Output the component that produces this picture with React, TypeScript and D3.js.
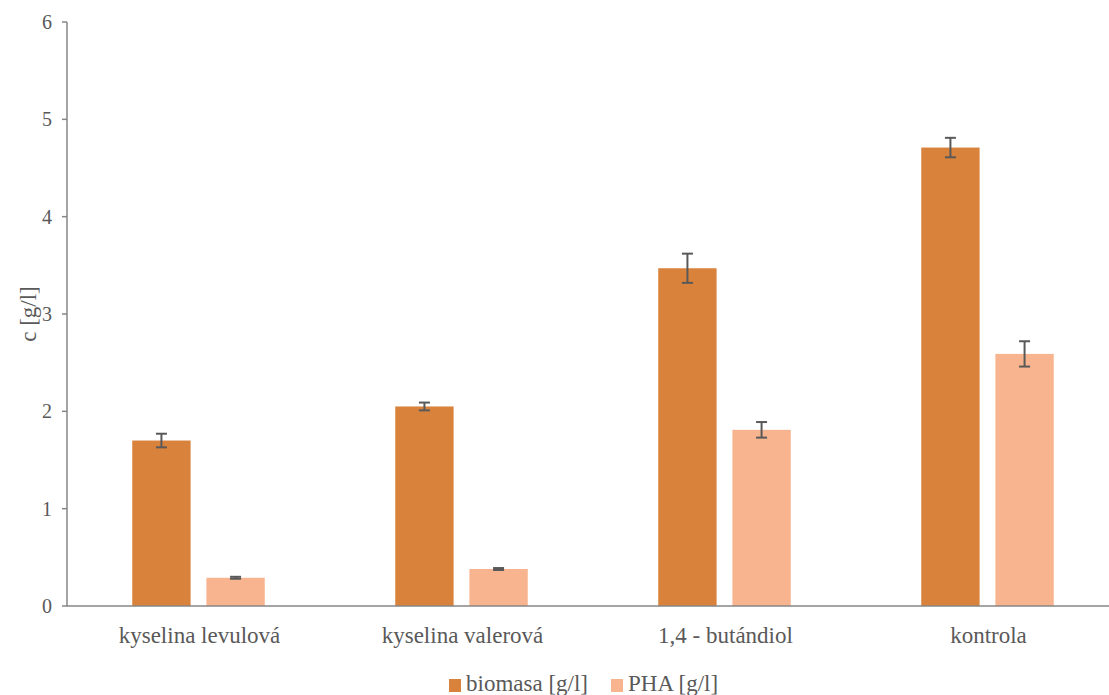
import React from "react";
import * as d3 from "d3";

const categories = ["kyselina levulová", "kyselina valerová", "1,4 - butándiol", "kontrola"];
const seriesNames = ["biomasa [g/l]", "PHA [g/l]"];
const biomasa = [1.70, 2.05, 3.47, 4.71];
const biomasaErr = [0.07, 0.04, 0.15, 0.10];
const pha = [0.29, 0.38, 1.81, 2.59];
const phaErr = [0.01, 0.01, 0.08, 0.13];
const yTicks = [0, 1, 2, 3, 4, 5, 6];
const colors = ["#D9823B", "#F8B48F"];

export default function App() {
  const W = 1109, H = 695;
  const left = 67, right = 1119, top = 22, bottom = 606;
  const y = d3.scaleLinear().domain([0, 6]).range([bottom, top]);
  const x0 = d3.scaleBand().domain(categories).range([left, right]).paddingInner(0).paddingOuter(0);
  const x1 = d3.scaleBand().domain(seriesNames).range([0, x0.bandwidth()]).paddingInner(0.213).paddingOuter(0.88);
  const series = [
    { name: seriesNames[0], vals: biomasa, errs: biomasaErr, color: colors[0] },
    { name: seriesNames[1], vals: pha, errs: phaErr, color: colors[1] },
  ];
  const ts: React.CSSProperties = { fontFamily: "Liberation Serif" };
  const axisColor = "#868686";
  const textColor = "#595959";
  return (
    <svg width={W} height={H} style={{ position: "absolute", left: 0, top: 0 }}>
      <rect width={W} height={H} fill="#fff" />
      {series.map((s) =>
        categories.map((c, i) => {
          const bx = x0(c)! + x1(s.name)!;
          const bw = x1.bandwidth();
          return (
            <rect key={s.name + c} x={bx} y={y(s.vals[i])} width={bw} height={y(0) - y(s.vals[i])} fill={s.color} />
          );
        })
      )}
      <line x1={left} x2={W} y1={y(0)} y2={y(0)} stroke={axisColor} strokeWidth={1.5} />
      <line x1={left} x2={left} y1={top} y2={bottom} stroke={axisColor} strokeWidth={1.5} />
      {yTicks.map((t) => (
        <g key={t}>
          <line x1={left - 5} x2={left} y1={y(t)} y2={y(t)} stroke={axisColor} strokeWidth={1.5} />
          <text x={52} y={y(t)} dy="0.35em" textAnchor="end" fontSize={20} fill={textColor} style={ts}>{t}</text>
        </g>
      ))}
      {series.map((s) =>
        categories.map((c, i) => {
          const cx = x0(c)! + x1(s.name)! + x1.bandwidth() / 2;
          const hi = y(s.vals[i] + s.errs[i]);
          const lo = y(s.vals[i] - s.errs[i]);
          return (
            <g key={"e" + s.name + c} stroke="#595959" strokeWidth={2}>
              <line x1={cx} x2={cx} y1={hi} y2={lo} />
              <line x1={cx - 5.5} x2={cx + 5.5} y1={hi} y2={hi} />
              <line x1={cx - 5.5} x2={cx + 5.5} y1={lo} y2={lo} />
            </g>
          );
        })
      )}
      {categories.map((c) => (
        <text key={c} x={x0(c)! + x0.bandwidth() / 2 + 1} y={643} textAnchor="middle" fontSize={23} fill={textColor} style={ts}>{c}</text>
      ))}
      <text transform={`translate(36, ${(top + bottom) / 2}) rotate(-90)`} textAnchor="middle" fontSize={23} fill={textColor} style={ts}>c [g/l]</text>
      <g>
        <rect x={449} y={679} width={12} height={13} fill={colors[0]} />
        <text x={466} y={691} fontSize={23} fill={textColor} style={ts}>{seriesNames[0]}</text>
        <rect x={611} y={679} width={12} height={13} fill={colors[1]} />
        <text x={628} y={691} fontSize={23} fill={textColor} style={ts}>{seriesNames[1]}</text>
      </g>
    </svg>
  );
}
